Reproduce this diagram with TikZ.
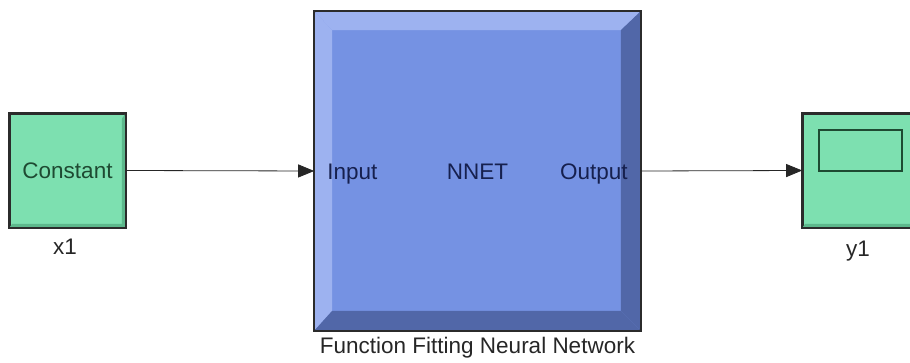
\documentclass[tikz,border=0pt]{standalone}
\usepackage{fontspec}
\setmainfont{Liberation Sans}
\usetikzlibrary{positioning,arrows.meta}

\definecolor{mint}{HTML}{7DE0B0}
\definecolor{mintdark}{HTML}{5DB88C}
\definecolor{nnblue}{HTML}{7592E3}
\definecolor{nnlight}{HTML}{9DB2F0}
\definecolor{nndark}{HTML}{5167A8}
\definecolor{edge}{HTML}{2B2B2B}
\definecolor{navy}{HTML}{16204E}
\definecolor{forest}{HTML}{1E4A32}

\begin{document}
\begin{tikzpicture}[x=1pt,y=-1pt,>={Triangle[length=16pt,width=13pt]},
  font=\fontsize{22.5}{27}\selectfont,
  block/.style={draw=edge,line width=1.6pt,fill=mint,minimum width=115pt,minimum height=113pt,
    inner sep=0pt},
  nnbox/.style={draw=edge,line width=1.6pt,fill=nnblue,minimum width=325pt,minimum height=318pt,
    inner sep=0pt},
  port/.style={inner sep=0pt,text=navy},
  tag/.style={text=black!85},
  signal/.style={->,line width=0.8pt,black!85}]
\useasboundingbox (0,0) rectangle (910,363);
\clip (0,0) rectangle (910,363);

% blocks
\node[block] (const) at (67.5,170.5) {};
\node[nnbox] (nnet) at (477.5,171) {};
\node[block] (scope) at (860.5,170.5) {};

% bevels
\fill[mintdark] (const.south west) -- ++(3,-4) -- ([shift={(-4,-4)}]const.south east) -- ++(0,-105) -- (const.north east) -- (const.south east) -- cycle;
\fill[mintdark] (scope.south west) -- ++(3,-4) -- ([shift={(-4,-4)}]scope.south east) -- (scope.south east) -- cycle;
\fill[nnlight] (nnet.north west) -- (nnet.north east) -- ++(-20,19) -- ([shift={(18,19)}]nnet.north west) -- cycle;
\fill[nnlight] (nnet.north west) -- ++(18,19) -- ([shift={(18,-20)}]nnet.south west) -- (nnet.south west) -- cycle;
\fill[nndark] (nnet.north east) -- (nnet.south east) -- ++(-20,-20) -- ([shift={(-20,19)}]nnet.north east) -- cycle;
\fill[nndark] (nnet.south west) -- ++(18,-20) -- ([shift={(-20,-20)}]nnet.south east) -- (nnet.south east) -- cycle;
\draw[edge,line width=1.6pt] (const.north west) rectangle (const.south east);
\draw[edge,line width=1.6pt] (nnet.north west) rectangle (nnet.south east);
\draw[edge,line width=1.6pt] (scope.north west) rectangle (scope.south east);

% scope screen
\draw[forest,line width=1.6pt] ([shift={(17,17)}]scope.north west) rectangle ([shift={(100,58)}]scope.north west);

% texts
\node[anchor=base,inner sep=0pt,text=forest] (consttxt) at ([shift={(0,8.5)}]const.center) {Constant};
\node[port,anchor=base west] (in) at ([shift={(13,9)}]nnet.west) {Input};
\node[port,anchor=base] (nnettxt) at ([shift={(0,9)}]nnet.center) {NNET};
\node[port,anchor=base east] (out) at ([shift={(-13,9)}]nnet.east) {Output};

% labels
\node[tag] (x1) at (65,247) {x1};
\node[tag] (y1) at (858,251) {y1};
\node[tag,below=3pt of nnet] (ffnn) {Function Fitting Neural Network};

% signals
\draw[signal] (const.east) -- (nnet.west);
\draw[signal] (nnet.east) -- (scope.west);
\end{tikzpicture}
\end{document}
